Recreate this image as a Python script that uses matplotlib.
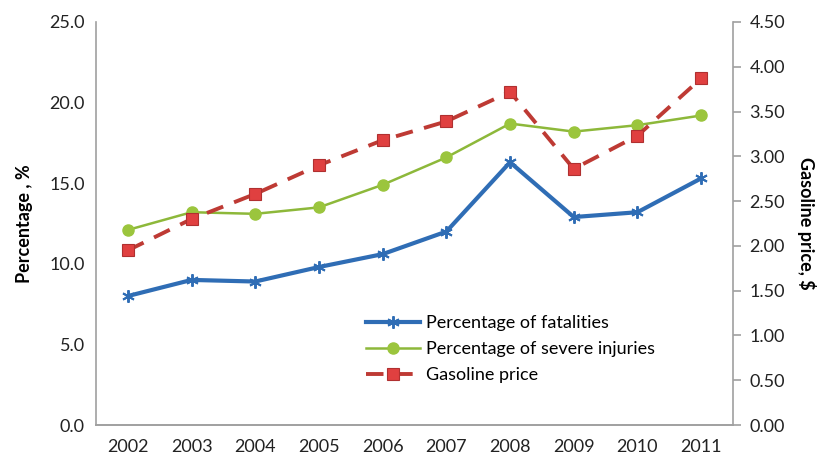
import matplotlib
matplotlib.use("Agg")
import matplotlib.pyplot as plt

years = ["2002", "2003", "2004", "2005", "2006", "2007", "2008", "2009", "2010", "2011"]
fatalities = [8.0, 9.0, 8.9, 9.8, 10.6, 12.0, 16.3, 12.9, 13.2, 15.3]
severe_injuries = [12.1, 13.2, 13.1, 13.5, 14.9, 16.6, 18.7, 18.2, 18.6, 19.2]
gasoline = [1.95, 2.30, 2.58, 2.90, 3.18, 3.39, 3.72, 2.86, 3.23, 3.87]

left_ticks = [0, 5, 10, 15, 20, 25]
right_ticks = [0, 0.5, 1.0, 1.5, 2.0, 2.5, 3.0, 3.5, 4.0, 4.5]

plt.rcParams['font.family'] = ['Lato', 'DejaVu Sans']

fig = plt.figure(figsize=(8.18, 4.59), dpi=100)
ax = fig.add_axes([96/818, 1-425/459, (733-96)/818, (425-22)/459])
ax2 = ax.twinx()

x = list(range(len(years)))
blue = "#2F6DB5"

l1, = ax.plot(x, fatalities, color=blue, lw=3, marker=(6, 2, 0), ms=9, mew=1.4, label="Percentage of fatalities", zorder=3)
l2, = ax.plot(x, severe_injuries, color="#8DB83A", lw=1.8, marker="o", ms=8, mfc="#9BC53D", mec="#9BC53D", label="Percentage of severe injuries", zorder=3)
l3, = ax2.plot(x, gasoline, color="#BE3A34", lw=2.8, ls=(0, (4.5, 3)), marker="s", ms=8, mfc="#E04040", mec="#B03030", mew=0.8, label="Gasoline price", zorder=3)

ax.set_xlim(-0.5, len(years) - 0.5)
ax.set_ylim(0, 25)
ax2.set_ylim(0, 4.5)
ax.set_xticks(x)
ax.set_xticklabels(years)
ax.set_yticks(left_ticks)
ax.set_yticklabels([f"{v:.1f}" for v in left_ticks])
ax2.set_yticks(right_ticks)
ax2.set_yticklabels([f"{v:.2f}" for v in right_ticks])

for a in (ax, ax2):
    a.spines["top"].set_visible(False)
    for s in ("left", "right", "bottom"):
        a.spines[s].set_color("#A0A0A0")
        a.spines[s].set_linewidth(1.2)
ax.tick_params(axis="y", length=0, labelsize=13, pad=8, colors="#222222")
ax.tick_params(axis="x", length=0, labelsize=13, pad=10, colors="#222222")
ax2.tick_params(axis="y", length=6, width=1.2, color="#A0A0A0", labelsize=13, pad=6, labelcolor="#222222")
ax.spines["right"].set_visible(False)
ax2.spines["left"].set_visible(False)

ax.set_ylabel("Percentage , %", fontsize=13, fontweight="bold", labelpad=12)
ax2.set_ylabel("Gasoline price, $", fontsize=13, fontweight="bold", rotation=270, labelpad=22)

ax.legend(handles=[l1, l2, l3], loc="upper left", bbox_to_anchor=(0.41, 0.295), frameon=False,
          fontsize=13, handlelength=3.0, handletextpad=0.3, labelspacing=0.55, borderpad=0)

fig.savefig("out.png", dpi=100)
